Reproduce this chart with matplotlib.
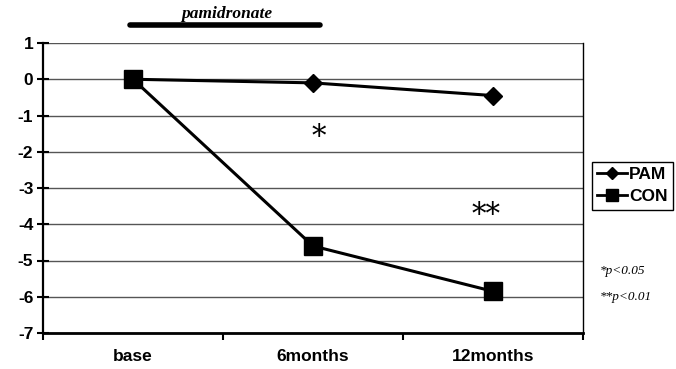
import matplotlib.pyplot as plt
from matplotlib.lines import Line2D

# Data
timepoints = ['base', '6months', '12months']
pam = [0.0, -0.1, -0.45]
con = [0.0, -4.6, -5.85]
yticks = [1, 0, -1, -2, -3, -4, -5, -6, -7]

fig = plt.figure(figsize=(6.76, 3.69), dpi=100)
ax = fig.add_axes([43 / 676, 1 - 333 / 369, 540 / 676, 290 / 369])

x = range(len(timepoints))
ax.plot(x, pam, color='black', lw=2.2, marker='D', markersize=9.5, zorder=3)
ax.plot(x, con, color='black', lw=2.2, marker='s', markersize=13.5, zorder=4)

ax.set_xlim(-0.5, 2.5)
ax.set_ylim(-7, 1)
ax.set_yticks(yticks)
ax.set_yticklabels([str(v) for v in yticks], fontsize=12.5, fontweight='bold',
                   family='Liberation Sans')
ax.set_xticks([-0.5, 0.5, 1.5, 2.5])
ax.set_xticklabels([])
for i, lab in enumerate(timepoints):
    ax.text(i, -7.65, lab, ha='center', va='center', fontsize=12.5,
            fontweight='bold', family='Liberation Sans')

ax.yaxis.grid(True, color='#555555', lw=1)
ax.set_axisbelow(True)
ax.spines['top'].set_visible(False)
for s in ['left', 'bottom', 'right']:
    ax.spines[s].set_color('black')
ax.spines['left'].set_linewidth(1.6)
ax.spines['bottom'].set_linewidth(2)
ax.spines['right'].set_linewidth(1)
ax.tick_params(axis='y', direction='inout', length=8, width=1.5, pad=3)
ax.tick_params(axis='x', direction='out', length=5, width=1.5)

# significance stars
ax.text(1.03, -1.6, '*', ha='center', va='center', fontsize=21, family='DejaVu Serif')
ax.text(1.96, -3.75, '**', ha='center', va='center', fontsize=21, family='DejaVu Serif')

# treatment bar
fig.add_artist(Line2D([130 / 676, 320 / 676], [1 - 25 / 369, 1 - 25 / 369],
                      color='black', lw=4, solid_capstyle='round'))
fig.text(227 / 676, 1 - 14 / 369, 'pamidronate', ha='center', va='center',
         fontsize=12.5, fontweight='bold', style='italic', family='Liberation Serif')

# p-value notes
fig.text(600 / 676, 1 - 271 / 369, '*p<0.05', ha='left', va='center', fontsize=9.5,
         style='italic', family='Liberation Serif')
fig.text(600 / 676, 1 - 297 / 369, '**p<0.01', ha='left', va='center', fontsize=9.5,
         style='italic', family='Liberation Serif')

handles = [Line2D([], [], color='black', lw=2, marker='D', markersize=6.5),
           Line2D([], [], color='black', lw=2, marker='s', markersize=8)]
leg = fig.legend(handles, ['PAM', 'CON'], loc='upper left',
                 bbox_to_anchor=(592 / 676, 1 - 162 / 369),
                 prop={'family': 'Liberation Sans', 'weight': 'bold', 'size': 12.5},
                 frameon=True, fancybox=False, edgecolor='black', framealpha=1,
                 handlelength=1.7, handletextpad=0.15, borderpad=0.3,
                 labelspacing=0.4, borderaxespad=0)
leg.get_frame().set_linewidth(1)

fig.savefig('out.png', dpi=100)
